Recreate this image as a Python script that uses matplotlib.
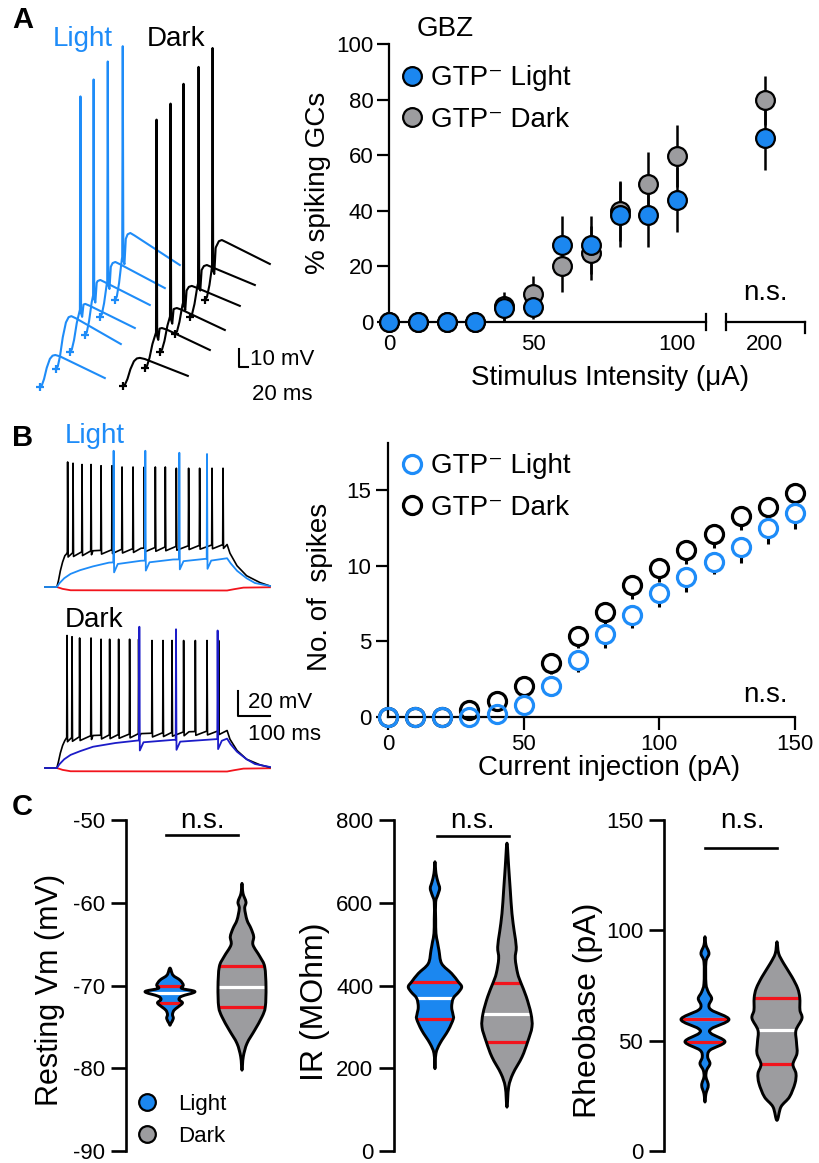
import numpy as np
import matplotlib
matplotlib.use('Agg')
import matplotlib.pyplot as plt
from matplotlib.path import Path
from matplotlib.patches import PathPatch
from matplotlib.lines import Line2D

plt.rcParams['font.family'] = ['Liberation Sans', 'DejaVu Sans']
plt.rcParams['axes.unicode_minus'] = False

# ------------------------------------------------------------------ data
# Panel A (right): % spiking GCs vs stimulus intensity
stim = [0, 10, 20, 30, 40, 50, 60, 70, 80, 90, 100, 200]
light_pct = [0, 0, 0, 0, 5.0, 5.4, 27.8, 27.8, 38.6, 38.6, 44.0, 66.2]
light_sem = [0, 0, 0, 0, 4.5, 4.5, 10.4, 10.4, 11.7, 11.7, 11.7, 11.4]
dark_pct = [0, 0, 0, 0, 5.6, 10.0, 20.0, 24.8, 40.0, 49.6, 59.6, 79.7]
dark_sem = [0, 0, 0, 0, 5.2, 6.7, 9.3, 9.8, 10.8, 11.4, 11.1, 8.9]

# Panel B (right): number of spikes vs current injection
inj = [0, 10, 20, 30, 40, 50, 60, 70, 80, 90, 100, 110, 120, 130, 140, 150]
light_spk = [0, 0, 0, 0, 0.2, 0.77, 2.05, 3.75, 5.45, 6.73, 8.16, 9.22, 10.26, 11.2, 12.46, 13.5]
light_spk_sem = [0, 0, 0, 0, 0, 0, 0.62, 0.8, 0.9, 0.85, 0.9, 0.95, 0.8, 1.0, 1.05, 1.05]
dark_spk = [0, 0, 0, 0.44, 1.04, 2.05, 3.57, 5.36, 6.95, 8.71, 9.82, 11.03, 12.07, 13.28, 13.9, 14.82]
dark_spk_sem = [0, 0, 0, 0.3, 0.5, 0.6, 0.7, 0.8, 0.85, 0.9, 0.9, 0.9, 0.9, 0.9, 0.95, 0.95]

# Panel A (left): example EPSP/spike traces (ms, mV), waterfall
epsp_tpl_t = [0, 4, 9, 15, 22, 28, 34, 44]
epsp_tpl_f = [0, 0.05, 0.25, 0.6, 0.88, 0.98, 1.0, 0.96]
epsp_len = 144
lightA_t0 = [22.2, 57.8, 88.9, 122.2, 155.6, 188.9]
lightA_v0 = [7.2, 17.2, 26.7, 36.1, 46.1, 55.6]
lightA_hump = [17.8, 29.4, 26.7, 30.6, 30.6, 37.2]
lightA_end = [5.0, 13.9, 13.3, 16.7, 16.1, 19.4]
lightA_lat = [np.nan, np.nan, 22, 18, 16, 16]
lightA_peak = [np.nan, np.nan, 142, 142, 142, 141]
darkA_t0 = [206.7, 255.6, 288.9, 322.2, 355.6, 388.9]
darkA_v0 = [7.8, 17.8, 26.7, 36.7, 46.1, 55.6]
darkA_hump = [15.6, 22.2, 24.4, 26.7, 28.9, 33.3]
darkA_end = [5.6, 10.0, 12.2, 15.6, 17.8, 20.0]
darkA_lat = [np.nan, 24.4, 22.2, 17.8, 17.8, 15.6]
darkA_peak = [np.nan, 138, 138, 139, 139, 140]

# Panel B (left): spike trains (ms, mV relative to rest)
blkL_plat_t = [0, 37, 42, 48, 55, 62, 69, 150, 300, 450, 569, 578, 600, 630, 672, 703]
blkL_plat_v = [0, 0, 5, 13, 20, 25, 27, 29, 31, 33, 34, 27, 17, 9, 3.5, 0.8]
blkL_spk_t = [69.7, 86.6, 114.7, 142.8, 174.1, 208.4, 239.7, 274.1, 309.4, 343.8,
              375.0, 409.4, 447.8, 482.2, 520.9, 555.3]
blkL_spk_p = [100, 99, 98, 98, 97, 97, 96, 96, 96, 96, 96, 95, 95, 95, 95, 95]
bluL_plat_t = [0, 37, 45, 60, 80, 110, 150, 200, 300, 400, 500, 569, 580, 600, 630, 656, 703]
bluL_plat_v = [0, 0, 3, 7, 10.5, 13.5, 16.5, 19.5, 21, 22, 22.5, 23, 19, 13, 7, 3.2, 0.8]
bluL_spk_t = [213.4, 312.5, 418.8, 505.3]
bluL_spk_p = [109, 109, 107.4, 106.4]
blkD_plat_t = [0, 37, 42, 48, 55, 62, 67, 150, 300, 450, 569, 578, 600, 630, 672, 703]
blkD_plat_v = [0, 0, 5, 12, 18, 22, 24, 26, 27.5, 29, 30, 23, 14, 7, 2.5, 0.5]
blkD_spk_t = [67.8, 83.4, 107.2, 142.8, 174.1, 201.0, 229.1, 263.4, 291.6, 333.4,
              367.8, 395.9, 432.2, 468.8, 505.3, 541.6]
blkD_spk_p = [106, 105, 104, 104, 103, 103, 103, 103, 103, 102, 102, 102, 102, 102, 102, 102]
bluD_plat_t = [0, 37, 45, 60, 80, 110, 150, 220, 290, 400, 530, 569, 580, 600, 630, 656, 703]
bluD_plat_v = [0, 0, 3, 7, 10.5, 13.5, 17, 20, 22, 22.5, 23, 23.5, 19, 13, 7, 3.2, 0.8]
bluD_spk_t = [293.8, 408.4, 538.4]
bluD_spk_p = [113, 111, 110]
red_t = [37, 55, 80, 569, 590, 620, 703]
red_v = [0, -1.5, -2.6, -2.8, -1.8, -0.5, -0.2]

# Panel C: violin outlines (value levels, half-width), medians, quartiles
rmp_light_lv = [-67.9, -68.75, -69.35, -69.95, -70.35, -70.75, -71.3, -71.7, -72.1, -72.6, -73.0, -73.5, -74.0, -74.6, -74.8]
rmp_light_hw = [0, 3, 10, 13.3, 11.7, 25, 11.7, 9, 12.5, 8, 4, 2.5, 3.3, 0.8, 0]
rmp_light_stats = (-70.85, -70.1, -72.1)
rmp_dark_lv = [-57.66, -58.87, -59.92, -60.68, -62.09, -63.1, -64.1, -65.1, -66.53, -67.74, -70.16, -72.58, -73.79, -75.4, -77.0, -78.6, -80.23]
rmp_dark_hw = [0, 1, 4, 2.7, 5, 9, 11.7, 11, 18, 22.7, 24, 23.3, 20, 12.7, 5, 1.3, 0]
rmp_dark_stats = (-70.2, -67.7, -72.6)
ir_light_lv = [699, 671, 650, 635, 620, 602, 560, 526, 505, 485, 453, 429, 409, 397, 385, 369, 348, 330, 319, 292, 260, 236, 199]
ir_light_hw = [0, 1, 3, 4.7, 3, 0.7, 0.7, 1, 2.5, 4, 6.7, 16.7, 23.3, 26.7, 24, 18.3, 16.7, 18, 18.3, 13.3, 5, 1, 0]
ir_light_stats = (369, 409, 319)
ir_dark_lv = [744, 687, 631, 574, 530, 493, 465, 429, 406, 373, 332, 300, 264, 227, 187, 155, 106]
ir_dark_hw = [0, 1.7, 3.3, 5, 7.3, 9.3, 8.3, 10.7, 14, 19.3, 24, 25, 20.7, 15, 6, 1.7, 0]
ir_dark_stats = (332, 406, 264)
rb_light_lv = [97.1, 93.3, 89.5, 85.7, 75.9, 72.1, 69.1, 66.1, 63.8, 59.6, 55.5, 53.3, 49.5, 45.7, 42.6, 39.6, 36.6, 33.6, 29.8, 26.0, 22.2]
rb_light_hw = [0, 1, 4, 1, 1, 3.3, 6.7, 4, 6.7, 24, 6.7, 6, 20, 5, 2.7, 5, 1.7, 1, 3.3, 1, 0]
rb_light_stats = (59.6, 59.6, 49.5)
rb_dark_lv = [94.8, 89.5, 85.0, 78.9, 73.7, 69.4, 63.8, 60.1, 54.7, 49.4, 44.2, 39.3, 35.1, 30.6, 24.5, 20.0, 13.9]
rb_dark_hw = [0, 1.7, 6.7, 15, 20.7, 22.8, 23, 25, 19, 19.5, 20, 16, 19, 18, 12.5, 4, 0]
rb_dark_stats = (54.7, 69.4, 39.3)

# ------------------------------------------------------------------ style
W, H = 819, 1163
BLUE = '#1b87f0'
GRAY = '#9c9c9f'
TBLUE = '#1e8cf8'
DBLUE = '#1c1cc8'
RED = '#f2141c'

fig = plt.figure(figsize=(W / 100, H / 100), dpi=100)


def px_axes(l, t, r, b):
    return fig.add_axes([l / W, 1 - b / H, (r - l) / W, (b - t) / H])


def fpos(x, y):
    return (x / W, 1 - y / H)


def ftext(x, y, s, **kw):
    fig.text(x / W, 1 - y / H, s, **kw)


# ------------------------------------------------------------------ panel A traces
axT = px_axes(30, 30, 300, 400)
axT.set_xlim(0, 600)
axT.set_ylim(0, 205.6)
axT.axis('off')


def build_epsp(t0, v0, hump, end, lat, peak, tsc):
    tt = [t * tsc for t in epsp_tpl_t] + [epsp_len]
    vv = [f * hump for f in epsp_tpl_f] + [end]
    pts = list(zip(tt, vv))
    if not np.isnan(lat):
        base = np.interp(lat, tt, vv)
        after = np.interp(lat + 8, tt, vv)
        pts = [p for p in pts if p[0] < lat or p[0] > lat + 8]
        pts += [(lat, base), (lat + 1.2, peak), (lat + 2.6, base - 2),
                (lat + 5, base - 4), (lat + 8, after)]
        pts.sort(key=lambda p: p[0])
    t = np.array([p[0] for p in pts]) + t0
    v = np.array([p[1] for p in pts]) + v0
    return t, v


for grp, col, tsc in [((lightA_t0, lightA_v0, lightA_hump, lightA_end, lightA_lat, lightA_peak), TBLUE, 1.0),
                      ((darkA_t0, darkA_v0, darkA_hump, darkA_end, darkA_lat, darkA_peak), 'black', 1.1)]:
    for t0, v0, hu, en, la, pk in zip(*grp):
        t, v = build_epsp(t0, v0, hu, en, la, pk, tsc)
        axT.plot(t, v, color=col, lw=1.5, solid_joinstyle='round')
        axT.plot([t0], [v0], marker='+', ms=6, mew=1.6, color=col)

# scale bar A: 10 mV, 20 ms
axT.plot([464.4, 464.4, 484.4], [28.3, 18.3, 18.3], color='black', lw=1.5)
ftext(250, 365, '10 mV', fontsize=16)
ftext(252, 400, '20 ms', fontsize=16)
ftext(53, 46, 'Light', fontsize=20, color=TBLUE)
ftext(147, 46, 'Dark', fontsize=20, color='black')
ftext(12, 28, 'A', fontsize=21, fontweight='bold')

# ------------------------------------------------------------------ panel A scatter
axA1 = px_axes(389, 44, 706, 322)
axA2 = px_axes(726, 44, 805, 322)
axA1.set_xlim(0, 110)
axA2.set_xlim(186.5, 214)
for ax in (axA1, axA2):
    ax.set_ylim(0, 100)
    for s in ['top', 'right']:
        ax.spines[s].set_visible(False)
    for s in ['left', 'bottom']:
        ax.spines[s].set_linewidth(1.6)
    ax.tick_params(axis='x', length=0, labelsize=16, pad=9)
axA2.spines['left'].set_visible(False)
axA2.tick_params(axis='y', left=False, labelleft=False)
axA1.set_yticks([0, 20, 40, 60, 80, 100])
axA1.tick_params(axis='y', length=9, width=1.6, labelsize=16, pad=2)
axA1.set_xticks([0, 50, 100])
axA2.set_xticks([200])

st = np.array(stim)
for ax, mask in [(axA1, st <= 110), (axA2, st > 110)]:
    for vals, sem, col in [(dark_pct, dark_sem, GRAY), (light_pct, light_sem, BLUE)]:
        x = st[mask]
        y = np.array(vals)[mask]
        e = np.array(sem)[mask]
        ax.errorbar(x, y, yerr=e, fmt='none', ecolor='black', elinewidth=1.8,
                    capsize=0, zorder=2, clip_on=False)
    for vals, col, z in [(dark_pct, GRAY, 3), (light_pct, BLUE, 4)]:
        ax.plot(st[mask], np.array(vals)[mask], 'o', ms=13.5, mfc=col, mec='black',
                mew=1.6, ls='none', clip_on=False, zorder=z)

axA1.plot([1, 1], [-0.028, 0.028], transform=axA1.transAxes, color='k', lw=1.6, clip_on=False)
axA2.plot([0, 0], [-0.028, 0.028], transform=axA2.transAxes, color='k', lw=1.6, clip_on=False)
axA2.plot([1, 1], [0, -0.04], transform=axA2.transAxes, color='k', lw=1.6, clip_on=False)

hA = [Line2D([], [], marker='o', ls='none', ms=13.5, mfc=BLUE, mec='k', mew=1.6),
      Line2D([], [], marker='o', ls='none', ms=13.5, mfc=GRAY, mec='k', mew=1.6)]
fig.legend(hA, ['GTP\u207b Light', 'GTP\u207b Dark'], loc='center left',
           bbox_to_anchor=fpos(398, 99), frameon=False, fontsize=20,
           handlelength=1.0, handletextpad=0.2, borderpad=0, borderaxespad=0,
           labelspacing=0.55)
ftext(445, 36, 'GBZ', fontsize=20, ha='center')
ftext(765, 300, 'n.s.', fontsize=20, ha='center')
ftext(318, 183, '% spiking GCs', fontsize=20, rotation=90, ha='center', va='center')
ftext(610, 378, 'Stimulus Intensity (\u03bcA)', fontsize=20, ha='center', va='center')

# ------------------------------------------------------------------ panel B traces


def build_train(pt, pv, spk_t, spk_p, dip, recov):
    pts = list(zip(pt, pv))
    for s, p in zip(spk_t, spk_p):
        b = np.interp(s, pt, pv)
        pts = [q for q in pts if q[0] < s or q[0] > s + recov]
        pts += [(s, b), (s + 1.0, p), (s + 2.5, b - dip)]
        if recov > 6:
            pts += [(s + recov, np.interp(s + recov, pt, pv) - 1.5)]
    pts.sort(key=lambda q: q[0])
    return [q[0] for q in pts], [q[1] for q in pts]


axBL = px_axes(30, 440, 290, 600)
axBL.set_xlim(-46.9, 765.6)
axBL.set_ylim(-10.4, 117.6)
axBD = px_axes(30, 608, 290, 780)
axBD.set_xlim(-46.9, 765.6)
axBD.set_ylim((768 - 780) / 1.25, (768 - 608) / 1.25)
for ax in (axBL, axBD):
    ax.axis('off')

for ax, blk, blu, bcol in [
        (axBL, (blkL_plat_t, blkL_plat_v, blkL_spk_t, blkL_spk_p),
         (bluL_plat_t, bluL_plat_v, bluL_spk_t, bluL_spk_p), TBLUE),
        (axBD, (blkD_plat_t, blkD_plat_v, blkD_spk_t, blkD_spk_p),
         (bluD_plat_t, bluD_plat_v, bluD_spk_t, bluD_spk_p), DBLUE)]:
    ax.plot(red_t, red_v, color=RED, lw=1.3)
    t, v = build_train(*blk, dip=3, recov=4)
    ax.plot(t, v, color='black', lw=1.2, solid_joinstyle='round')
    t, v = build_train(*blu, dip=8, recov=14)
    ax.plot(t, v, color=bcol, lw=1.3, solid_joinstyle='round')

axBD.plot([603, 603, 703], [61.6, 41.6, 41.6], color='black', lw=1.5, clip_on=False)
ftext(248, 708, '20 mV', fontsize=16)
ftext(248, 740, '100 ms', fontsize=16)
ftext(65, 443, 'Light', fontsize=20, color=TBLUE)
ftext(65, 627, 'Dark', fontsize=20, color='black')
ftext(12, 446, 'B', fontsize=21, fontweight='bold')

# ------------------------------------------------------------------ panel B scatter
axB = px_axes(388, 443, 795, 717)
axB.set_xlim(0, 150)
axB.set_ylim(0, 18.1)
for s in ['top', 'right']:
    axB.spines[s].set_visible(False)
for s in ['left', 'bottom']:
    axB.spines[s].set_linewidth(1.6)
axB.set_xticks([0, 50, 100, 150])
axB.set_yticks([0, 5, 10, 15])
axB.tick_params(axis='both', length=9, width=1.6, labelsize=16, pad=3)

for vals, sem in [(dark_spk, dark_spk_sem), (light_spk, light_spk_sem)]:
    axB.errorbar(inj, vals, yerr=[sem, np.zeros(len(sem))], fmt='none',
                 ecolor='black', elinewidth=2.2, capsize=0, zorder=2, clip_on=False)
for vals in (dark_spk, light_spk):
    axB.plot(inj, vals, 'o', ms=13, mfc='white', mec='none', ls='none',
             clip_on=False, zorder=2.2)
for vals, col in [(dark_spk, 'black'), (light_spk, TBLUE)]:
    axB.plot(inj, vals, 'o', ms=13, mfc='none', mec=col, mew=2.3, ls='none',
             clip_on=False, zorder=4)

hB = [Line2D([], [], marker='o', ls='none', ms=13, mfc='none', mec=TBLUE, mew=2.3),
      Line2D([], [], marker='o', ls='none', ms=13, mfc='none', mec='black', mew=2.3)]
fig.legend(hB, ['GTP\u207b Light', 'GTP\u207b Dark'], loc='center left',
           bbox_to_anchor=fpos(398, 487), frameon=False, fontsize=20,
           handlelength=1.0, handletextpad=0.2, borderpad=0, borderaxespad=0,
           labelspacing=0.55)
ftext(765, 702, 'n.s.', fontsize=20, ha='center')
ftext(320, 587, 'No. of  spikes', fontsize=20, rotation=90, ha='center', va='center')
ftext(609, 768, 'Current injection (pA)', fontsize=20, ha='center', va='center')

# ------------------------------------------------------------------ panel C violins
HW_SCALE = 1 / 72.0


def closed_catmull(pts):
    pts = [np.array(p, float) for p in pts]
    n = len(pts)
    verts = [pts[0]]
    codes = [Path.MOVETO]
    for i in range(n):
        p0, p1, p2, p3 = pts[(i - 1) % n], pts[i], pts[(i + 1) % n], pts[(i + 2) % n]
        verts += [p1 + (p2 - p0) / 6, p2 - (p3 - p1) / 6, p2]
        codes += [Path.CURVE4] * 3
    verts.append(pts[0])
    codes.append(Path.CLOSEPOLY)
    return Path(verts, codes)


def violin(ax, c, lv, hw, stats, color):
    right = [(c + w * HW_SCALE, y) for y, w in zip(lv, hw)]
    left = [(c - w * HW_SCALE, y) for y, w in zip(lv[1:-1], hw[1:-1])][::-1]
    path = closed_catmull(right + left)
    body = PathPatch(path, facecolor=color, edgecolor='none', zorder=1)
    ax.add_patch(body)
    med, q1, q3 = stats
    for val, lc in [(med, 'white'), (q1, RED), (q3, RED)]:
        ln, = ax.plot([c - 0.6, c + 0.6], [val, val], color=lc, lw=2.3, zorder=2)
        ln.set_clip_path(body)
    ax.add_patch(PathPatch(path, facecolor='none', edgecolor='black', lw=2.1,
                           zorder=3, joinstyle='round'))


def c_axes(left_px, x0, ylim, ticks):
    x1 = 2.6
    ax = px_axes(left_px, 820, left_px + (x1 - x0) * 72, 1151)
    ax.set_xlim(x0, x1)
    ax.set_ylim(*ylim)
    for s in ['top', 'right', 'bottom']:
        ax.spines[s].set_visible(False)
    ax.spines['left'].set_linewidth(1.9)
    ax.set_xticks([])
    ax.set_yticks(ticks)
    ax.tick_params(axis='y', length=11, width=1.9, labelsize=16, pad=4)
    return ax


axC1 = c_axes(126, 0.389, (-90, -50), [-90, -80, -70, -60, -50])
violin(axC1, 1, rmp_light_lv, rmp_light_hw, rmp_light_stats, BLUE)
violin(axC1, 2, rmp_dark_lv, rmp_dark_hw, rmp_dark_stats, GRAY)
axC1.plot([0.94, 1.94], [-51.8, -51.8], color='black', lw=1.9, clip_on=False)

axC2 = c_axes(394, 0.431, (0, 800), [0, 200, 400, 600, 800])
violin(axC2, 1, ir_light_lv, ir_light_hw, ir_light_stats, BLUE)
violin(axC2, 2, ir_dark_lv, ir_dark_hw, ir_dark_stats, GRAY)
axC2.plot([1.03, 2.03], [761, 761], color='black', lw=1.9, clip_on=False)

axC3 = c_axes(664, 0.431, (0, 150), [0, 50, 100, 150])
violin(axC3, 1, rb_light_lv, rb_light_hw, rb_light_stats, BLUE)
violin(axC3, 2, rb_dark_lv, rb_dark_hw, rb_dark_stats, GRAY)
axC3.plot([1.0, 2.0], [137.3, 137.3], color='black', lw=1.9, clip_on=False)

ftext(202, 828, 'n.s.', fontsize=20, ha='center')
ftext(472, 828, 'n.s.', fontsize=20, ha='center')
ftext(742, 828, 'n.s.', fontsize=20, ha='center')
ftext(50, 990, 'Resting Vm (mV)', fontsize=22, rotation=90, ha='center', va='center')
ftext(315, 1002, 'IR (MOhm)', fontsize=23, rotation=90, ha='center', va='center')
ftext(588, 1010, 'Rheobase (pA)', fontsize=23, rotation=90, ha='center', va='center')
ftext(12, 815, 'C', fontsize=21, fontweight='bold')

hC = [Line2D([], [], marker='o', ls='none', ms=12, mfc=BLUE, mec='k', mew=1.6),
      Line2D([], [], marker='o', ls='none', ms=12, mfc=GRAY, mec='k', mew=1.6)]
fig.legend(hC, ['Light', 'Dark'], loc='center left', bbox_to_anchor=fpos(136, 1120.5),
           frameon=False, fontsize=16, handlelength=1.0, handletextpad=0.9,
           borderpad=0, borderaxespad=0, labelspacing=0.5)

fig.savefig('out.png', dpi=100)
